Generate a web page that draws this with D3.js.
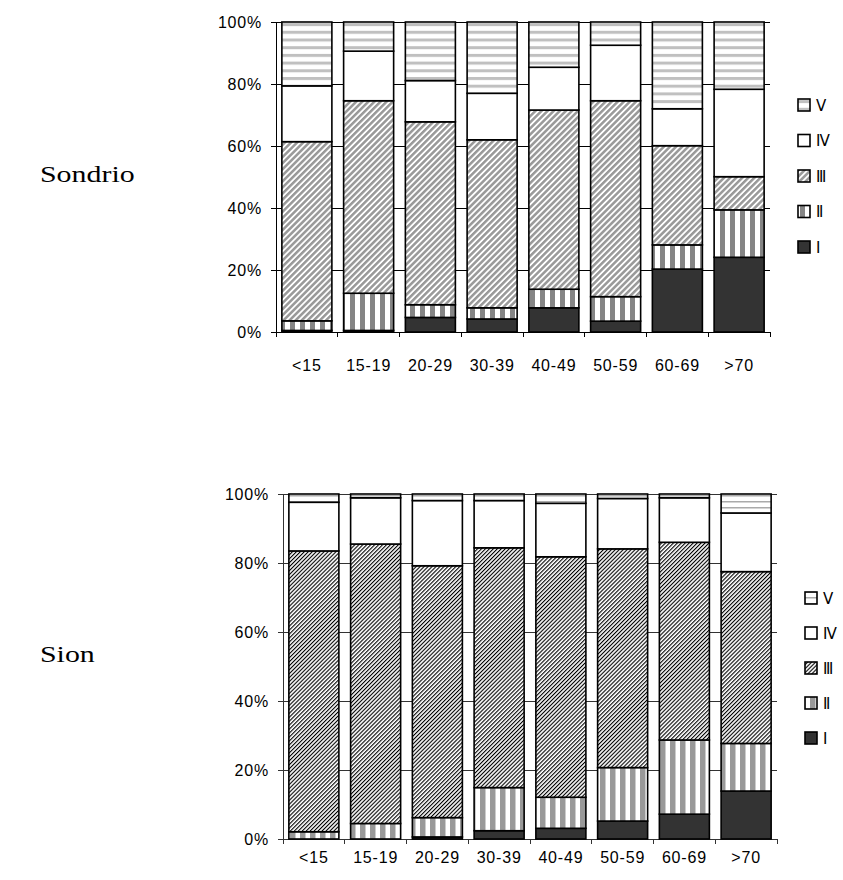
<!DOCTYPE html>
<html><head><meta charset="utf-8">
<script src="https://cdn.jsdelivr.net/npm/d3@7/dist/d3.min.js"></script>
<style>body{margin:0;background:#fff}</style></head>
<body>
<svg id="c" width="843" height="880" xmlns="http://www.w3.org/2000/svg"></svg>
<script>
// ---------- data ----------
const categories = ["<15", "15-19", "20-29", "30-39", "40-49", "50-59", "60-69", ">70"];
const classKeys = ["I", "II", "III", "IV", "V"];
const classLabels = ["Ⅰ", "Ⅱ", "Ⅲ", "Ⅳ", "Ⅴ"];
const yTickValues = [0, 20, 40, 60, 80, 100];

// Sondrio (percent per age group)
const sondrioI   = [0.5, 0.5, 4.7, 4.2, 7.8, 3.5, 20.3, 24.1];
const sondrioII  = [3.1, 12.0, 4.1, 3.6, 6.0, 7.9, 7.8, 15.3];
const sondrioIII = [57.8, 62.1, 59.0, 54.2, 57.8, 63.2, 32.0, 10.7];
const sondrioIV  = [18.0, 16.0, 13.3, 15.0, 13.8, 17.9, 11.9, 28.2];
const sondrioV   = [20.6, 9.4, 18.9, 23.0, 14.6, 7.5, 28.0, 21.7];

// Sion (percent per age group)
const sionI   = [0.0, 0.0, 0.6, 2.4, 3.1, 5.2, 7.2, 13.9];
const sionII  = [2.1, 4.5, 5.6, 12.5, 9.0, 15.5, 21.5, 13.8];
const sionIII = [81.4, 81.0, 73.0, 69.5, 69.7, 63.4, 57.3, 49.8];
const sionIV  = [14.1, 13.4, 18.9, 13.7, 15.5, 14.6, 12.9, 17.0];
const sionV   = [2.4, 1.1, 1.9, 1.9, 2.7, 1.3, 1.1, 5.5];

// ---------- drawing ----------
const svg = d3.select("#c");
const defs = svg.append("defs");

function stripePattern(id, w, h, rot, drawFn) {
  const p = defs.append("pattern").attr("id", id)
    .attr("patternUnits", "userSpaceOnUse")
    .attr("width", w).attr("height", h);
  if (rot) p.attr("patternTransform", "rotate(" + rot + ")");
  p.append("rect").attr("width", w).attr("height", h).attr("fill", "#fff");
  drawFn(p);
  return "url(#" + id + ")";
}

const fillsTop = {
  I: "#333333",
  II: stripePattern("t2", 10, 10, 0, p => p.append("rect").attr("x", 0).attr("width", 5).attr("height", 10).attr("fill", "#858585")),
  III: stripePattern("t3", 4.3, 4.3, 45, p => p.append("rect").attr("x", 0).attr("width", 2.5).attr("height", 4.3).attr("fill", "#999999")),
  IV: "#ffffff",
  V: stripePattern("t5", 8, 7.7, 0, p => p.append("rect").attr("y", 0).attr("width", 8).attr("height", 3).attr("fill", "#c0c0c0"))
};
const fillsBot = {
  I: "#333333",
  II: stripePattern("b2", 10, 10, 0, p => p.append("rect").attr("x", 0).attr("width", 5.5).attr("height", 10).attr("fill", "#999999")),
  III: stripePattern("b3", 2.8, 2.8, 45, p => p.append("rect").attr("x", 0).attr("width", 1.1).attr("height", 2.8).attr("fill", "#000000")),
  IV: "#ffffff",
  V: stripePattern("b5", 8, 6, 0, p => p.append("rect").attr("y", 3).attr("width", 8).attr("height", 1.5).attr("fill", "#aaaaaa"))
};

function panel(cfg) {
  const rows = categories.map((c, i) => {
    const o = { cat: c };
    classKeys.forEach((k, j) => o[k] = cfg.series[j][i]);
    return o;
  });
  const stack = d3.stack().keys(classKeys).offset(d3.stackOffsetExpand)(rows);

  const x = d3.scaleBand().domain(categories).range([cfg.x0, cfg.x1])
    .paddingInner(0.19).paddingOuter(0.095);
  const y = d3.scaleLinear().domain([0, 1]).range([cfg.y0, cfg.y1]);
  const g = svg.append("g");

  // gridlines
  g.append("g").selectAll("line").data(yTickValues).join("line")
    .attr("x1", cfg.x0).attr("x2", cfg.x1)
    .attr("y1", d => y(d / 100)).attr("y2", d => y(d / 100))
    .attr("stroke", cfg.gridColor).attr("stroke-width", 1).attr("shape-rendering", "crispEdges");

  // y axis
  const ya = g.append("g").attr("transform", "translate(" + cfg.x0 + ",0)")
    .call(d3.axisLeft(y).tickValues(yTickValues.map(v => v / 100))
      .tickFormat(d => Math.round(d * 100) + "%").tickSize(5).tickPadding(9));
  ya.selectAll("path, line").attr("stroke", cfg.axisColor).attr("shape-rendering", "crispEdges");
  ya.select(".domain").attr("d", "M0," + cfg.y0 + "V" + cfg.y1);
  ya.selectAll("text").attr("font-family", "Liberation Sans, Arial, sans-serif")
    .attr("font-size", 16).attr("letter-spacing", "0.8px").attr("fill", "#000");

  // x axis baseline + boundary ticks
  const step = x.step();
  g.append("line").attr("x1", cfg.x0).attr("x2", cfg.x1).attr("y1", cfg.y0).attr("y2", cfg.y0)
    .attr("stroke", cfg.axisColor).attr("shape-rendering", "crispEdges");
  g.append("g").selectAll("line").data(d3.range(categories.length + 1)).join("line")
    .attr("x1", i => cfg.x0 + i * step).attr("x2", i => cfg.x0 + i * step)
    .attr("y1", cfg.y0).attr("y2", cfg.y0 + 5)
    .attr("stroke", cfg.axisColor).attr("shape-rendering", "crispEdges");
  g.append("g").selectAll("text").data(categories).join("text")
    .attr("x", d => x(d) + x.bandwidth() / 2).attr("y", cfg.labelY)
    .attr("text-anchor", "middle")
    .attr("font-family", "Liberation Sans, Arial, sans-serif")
    .attr("font-size", 16).attr("letter-spacing", "0.8px").text(d => d);

  // bars
  g.append("g").selectAll("g").data(stack).join("g")
    .attr("fill", d => cfg.fills[d.key])
    .selectAll("rect").data(d => d).join("rect")
    .attr("x", d => x(d.data.cat)).attr("width", x.bandwidth())
    .attr("y", d => y(d[1])).attr("height", d => y(d[0]) - y(d[1]))
    .attr("stroke", "#000").attr("stroke-width", 1.6);

  // legend
  const lg = g.append("g");
  classKeys.forEach((k, j) => {
    const ly = cfg.legY - j * cfg.legStep;
    lg.append("rect").attr("x", cfg.legX).attr("y", ly - 6).attr("width", 12).attr("height", 12)
      .attr("fill", cfg.fills[k]).attr("stroke", "#000").attr("stroke-width", 1.6);
    lg.append("text").attr("x", cfg.legX + 18).attr("y", ly + 5.5)
      .attr("font-family", "DejaVu Sans, sans-serif").attr("font-size", 15)
      .text(classLabels[j]);
  });

  // site label
  svg.append("text").attr("transform", "translate(" + cfg.nameX + "," + cfg.nameY + ") scale(1.3,1)")
    .attr("font-family", "Liberation Serif, Times New Roman, serif")
    .attr("font-size", 23).attr("fill", "#000").text(cfg.name);
}

panel({
  name: "Sondrio", nameX: 40, nameY: 182,
  series: [sondrioI, sondrioII, sondrioIII, sondrioIV, sondrioV],
  fills: fillsTop, x0: 276, x1: 770, y0: 332, y1: 22, labelY: 371,
  legX: 798, legY: 247, legStep: 35.5, gridColor: "#000", axisColor: "#000"
});
panel({
  name: "Sion", nameX: 40, nameY: 662,
  series: [sionI, sionII, sionIII, sionIV, sionV],
  fills: fillsBot, x0: 283, x1: 777, y0: 839, y1: 494, labelY: 863,
  legX: 805, legY: 738, legStep: 35, gridColor: "#333", axisColor: "#333"
});
</script>
</body></html>
